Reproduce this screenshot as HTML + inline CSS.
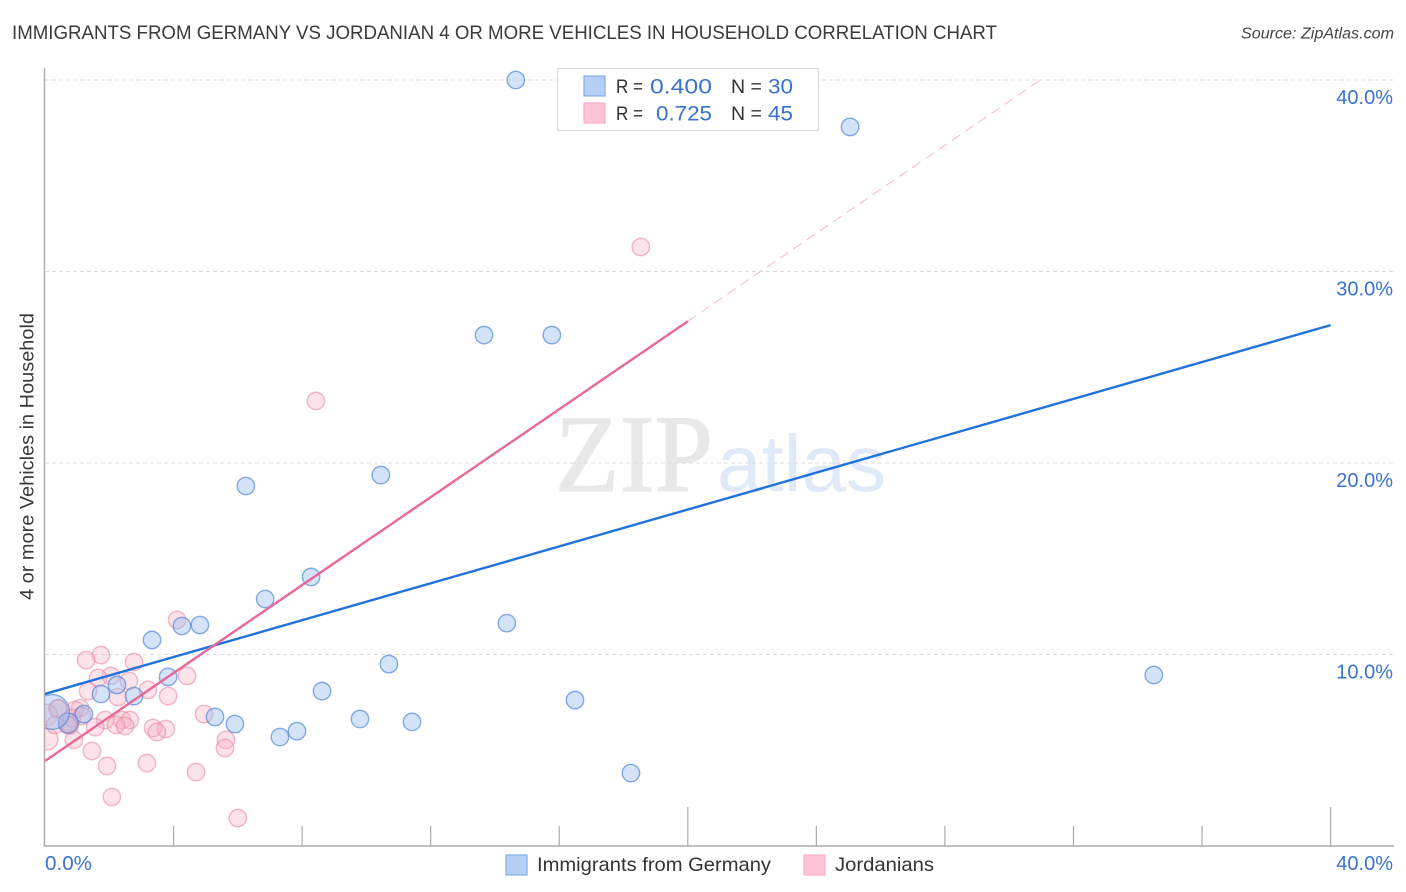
<!DOCTYPE html>
<html lang="en">
<head>
<meta charset="utf-8">
<title>Immigrants from Germany vs Jordanian 4 or more Vehicles in Household Correlation Chart</title>
<style>
html,body{margin:0;padding:0;background:#fff;width:1406px;height:892px;overflow:hidden}
svg{display:block}
text{font-family:"Liberation Sans",sans-serif}
</style>
</head>
<body>
<svg id="chart" width="1406" height="892" viewBox="0 0 1406 892" xmlns="http://www.w3.org/2000/svg">
  <defs><clipPath id="plot-clip"><rect x="45" y="60" width="1350" height="786"/></clipPath></defs>
  <text x="12" y="39" font-size="19.6" fill="#3a3a3a" textLength="985" lengthAdjust="spacingAndGlyphs">IMMIGRANTS FROM GERMANY VS JORDANIAN 4 OR MORE VEHICLES IN HOUSEHOLD CORRELATION CHART</text>
  <text x="1394" y="38.5" font-size="15.5" font-style="italic" fill="#444" text-anchor="end" textLength="153" lengthAdjust="spacingAndGlyphs">Source: ZipAtlas.com</text>
  <g>
    <text x="555" y="491" font-size="110" fill="#e8e8e8" stroke="#e8e8e8" stroke-width="1.2" textLength="158" lengthAdjust="spacingAndGlyphs" style="font-family:'Liberation Serif',serif">ZIP</text>
    <text x="717" y="491" font-size="80" fill="#dfe9f8">atlas</text>
  </g>
  <g id="grid"></g>
  <g id="points" clip-path="url(#plot-clip)"></g>
  <rect x="0" y="60" width="44.5" height="786" fill="#fff"/>
  <g id="axes"></g>
  <g id="trends"></g>
  <text transform="translate(33.5,456.5) rotate(-90)" font-size="19.5" fill="#3a3a3a" text-anchor="middle" textLength="287" lengthAdjust="spacingAndGlyphs">4 or more Vehicles in Household</text>
  <g>
    <rect x="557.5" y="68.5" width="261" height="62" fill="#fff" stroke="#dcdcdc" stroke-width="1.2"/>
    <rect x="584" y="76" width="21" height="20" fill="#b5cff5" stroke="#85aee8" stroke-width="1.2"/>
    <rect x="584" y="103" width="21" height="20" fill="#fdc4d6" stroke="#f5afc6" stroke-width="1.2"/>
    <text x="616" y="93" font-size="19.5" fill="#333" textLength="27" lengthAdjust="spacingAndGlyphs">R =</text>
    <text x="650" y="93.5" font-size="21" fill="#3a72d0" textLength="62" lengthAdjust="spacingAndGlyphs">0.400</text>
    <text x="731" y="93" font-size="19.5" fill="#333">N =</text>
    <text x="768" y="93.5" font-size="21" fill="#3a72d0" textLength="25" lengthAdjust="spacingAndGlyphs">30</text>
    <text x="616" y="120" font-size="19.5" fill="#333" textLength="27" lengthAdjust="spacingAndGlyphs">R =</text>
    <text x="656" y="120.5" font-size="21" fill="#3a72d0" textLength="56" lengthAdjust="spacingAndGlyphs">0.725</text>
    <text x="731" y="120" font-size="19.5" fill="#333">N =</text>
    <text x="768" y="120.5" font-size="21" fill="#3a72d0" textLength="25" lengthAdjust="spacingAndGlyphs">45</text>
  </g>
  <g>
    <rect x="506" y="855" width="21" height="20" fill="#b5cff5" stroke="#85aee8" stroke-width="1.2"/>
    <text x="537" y="871" font-size="19.5" fill="#333" textLength="234" lengthAdjust="spacingAndGlyphs">Immigrants from Germany</text>
    <rect x="804" y="855" width="21" height="20" fill="#fdc4d6" stroke="#f5afc6" stroke-width="1.2"/>
    <text x="835" y="871" font-size="19.5" fill="#333" textLength="99" lengthAdjust="spacingAndGlyphs">Jordanians</text>
  </g>
</svg>
<script>
const yTickValues = [10, 20, 30, 40];
const yTickLabels = ['10.0%', '20.0%', '30.0%', '40.0%'];
const xTickValues = [4, 8, 12, 16, 20, 24, 28, 32, 36, 40];
const xMajorTicks = [20, 40];
const xEndLabels = ['0.0%', '40.0%'];

const germanyX = [14.65,25.05,13.66,15.77,6.25,10.45,6.85,8.28,3.33,4.26,4.82,14.37,10.7,3.83,34.5,2.24,1.74,2.77,8.62,16.49,5.29,5.91,9.8,11.42,7.84,7.31,18.23,1.21,0.72,0.22];
const germanyY = [40.0,37.55,26.68,26.68,18.8,19.37,12.9,14.05,10.76,11.49,11.54,11.64,9.5,8.83,8.93,8.41,7.94,7.83,8.09,7.62,6.74,6.37,6.63,6.48,6.0,5.69,3.81,6.89,6.42,7.0];
const germanyWeight = [1,1,1,1,1,1,1,1,1,1,1,1,1,1,1,1,1,1,1,1,1,1,1,1,1,1,1,1,1.3,4];

const jordanX = [18.54,8.43,4.11,1.74,1.28,2.77,4.42,2.05,1.65,2.61,1.34,3.2,2.27,3.83,4.95,1.09,0.93,0.41,0.4,0.06,1.87,2.4,2.64,2.21,2.49,1.56,3.36,3.76,3.48,0.78,0.72,0.84,5.63,5.6,0.9,1.46,3.17,1.93,4.7,2.08,6.0,0.06,0.31,0.72,1.15];
const jordanY = [31.28,23.24,11.8,9.97,9.71,9.61,8.88,8.88,8.77,8.62,8.09,8.15,7.78,7.83,6.89,7.2,7.1,7.2,7.15,6.84,6.58,6.58,6.58,6.32,6.27,6.21,6.16,6.11,5.95,6.3,6.48,6.68,5.54,5.12,5.54,4.96,4.33,4.18,3.86,2.56,1.46,5.59,6.32,6.3,6.79];
const jordanWeight = [1,1,1,1,1,1,1,1,1,1,1,1,1,1,1,1,1,1,1.1,1.5,1,1,1,1,1,1,1,1,1,1,1.1,1,1,1,1,1,1,1,1,1,1,1.6,1,1,1];

const germanyTrend = [7.94, 27.2];
const germanyTrendX = [0, 40];
const jordanTrend = [4.44, 27.4];
const jordanTrendX = [0, 20];
const jordanDashEnd = [31.1, 40.15];

const SVGNS = 'http://www.w3.org/2000/svg';
const xScale = v => 45 + v * 32.14;
const yScale = v => 846 - v * 19.15;
const make = (tag, parent, props) => {
  const el = document.createElementNS(SVGNS, tag);
  for (const k in props) el.setAttribute(k, props[k]);
  parent.appendChild(el);
  return el;
};

const grid = document.getElementById('grid');
const axes = document.getElementById('axes');
const points = document.getElementById('points');
const trends = document.getElementById('trends');

yTickValues.forEach((v, i) => {
  const g = make('line', grid, {x1: 45, x2: 1393, y1: yScale(v), y2: yScale(v), stroke: '#dcdcdc', 'stroke-width': 1, 'stroke-dasharray': '4 3'});
  
  
  const t = make('text', axes, {x: 1393, y: yScale(v) + 24, 'font-size': 20, fill: '#3a72d0', 'text-anchor': 'end'});
  t.textContent = yTickLabels[i];
  
  
});

const yAxis = make('line', axes, {x1: 44.5, x2: 44.5, y1: 68, y2: 846.5, stroke: '#aaa', 'stroke-width': 1.4});


const xAxis = make('line', axes, {x1: 44, x2: 1394, y1: 846, y2: 846, stroke: '#aaa', 'stroke-width': 1.4});



xTickValues.forEach(v => {
  const len = xMajorTicks.includes(v) ? 39 : 20;
  const tick = make('line', axes, {x1: xScale(v), x2: xScale(v), y1: 846, y2: 846 - len, stroke: '#aaa', 'stroke-width': 1.2});
  
  
});

const xLabelLeft = make('text', axes, {x: 45, y: 870, 'font-size': 20, fill: '#3a72d0', textLength: 47, lengthAdjust: 'spacingAndGlyphs'});
xLabelLeft.textContent = xEndLabels[0];


const xLabelRight = make('text', axes, {x: 1393, y: 870, 'font-size': 20, fill: '#3a72d0', 'text-anchor': 'end'});
xLabelRight.textContent = xEndLabels[1];



jordanX.forEach((v, i) => {
  const c = make('circle', points, {cx: xScale(v), cy: yScale(jordanY[i]), r: 8.7 * Math.sqrt(jordanWeight[i]), fill: 'rgba(247,178,196,0.38)', stroke: 'rgba(232,130,160,0.55)', 'stroke-width': 1.4});
  
  
});
germanyX.forEach((v, i) => {
  const c = make('circle', points, {cx: xScale(v), cy: yScale(germanyY[i]), r: 8.7 * Math.sqrt(germanyWeight[i]), fill: 'rgba(150,190,240,0.42)', stroke: 'rgba(85,135,215,0.7)', 'stroke-width': 1.4});
  
  
});

const blueLine = make('line', trends, {x1: xScale(germanyTrendX[0]), y1: yScale(germanyTrend[0]), x2: xScale(germanyTrendX[1]), y2: yScale(germanyTrend[1]), stroke: '#2272dc', 'stroke-width': 2.4});


const pinkLine = make('line', trends, {x1: xScale(jordanTrendX[0]), y1: yScale(jordanTrend[0]), x2: xScale(jordanTrendX[1]), y2: yScale(jordanTrend[1]), stroke: '#e9679a', 'stroke-width': 2.4});


const pinkDash = make('line', trends, {x1: xScale(jordanTrendX[1]), y1: yScale(jordanTrend[1]), x2: xScale(jordanDashEnd[0]), y2: yScale(jordanDashEnd[1]), stroke: '#f2b8ce', 'stroke-width': 1, 'stroke-dasharray': '10 6'});


</script>
</body>
</html>
